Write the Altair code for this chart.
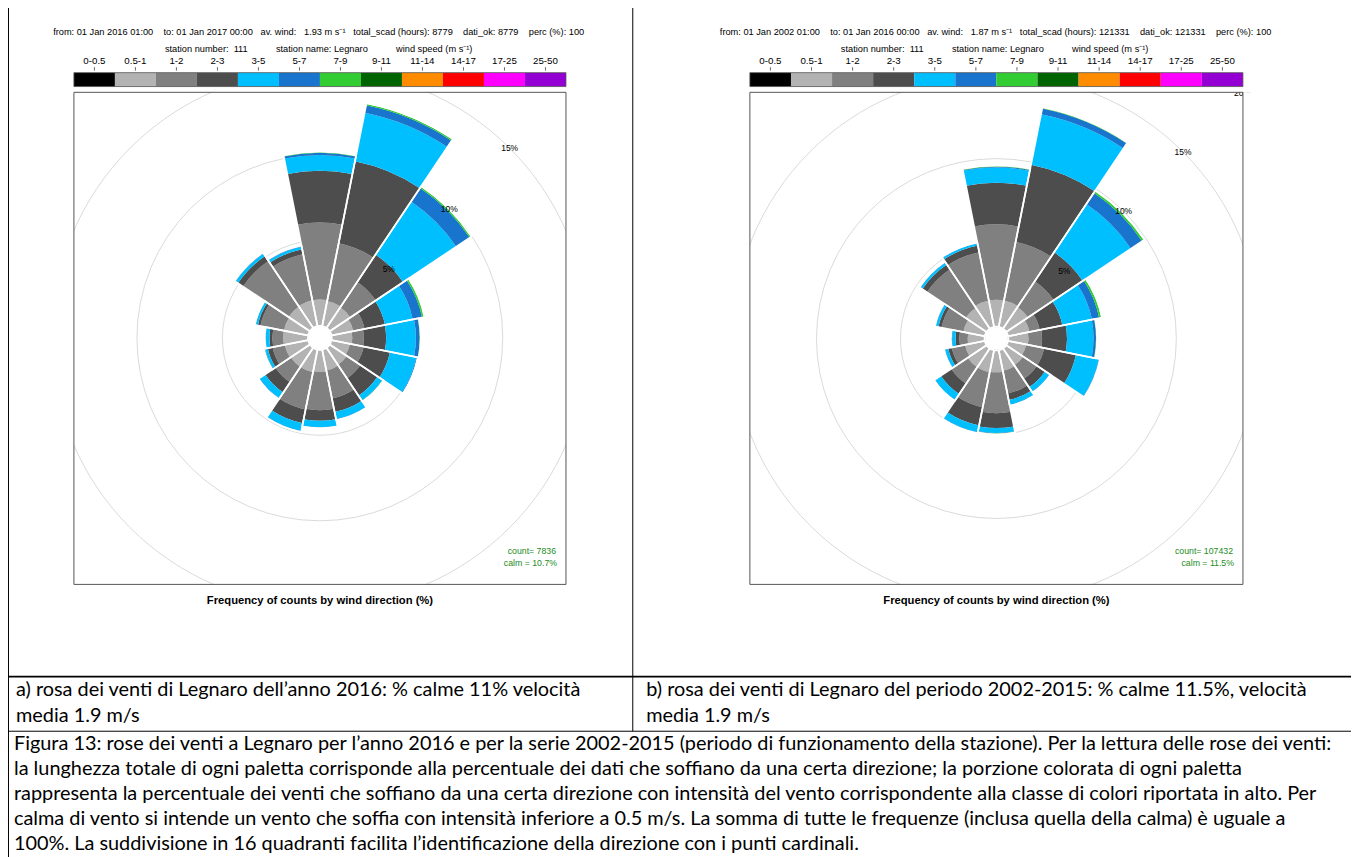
import math
import pandas as pd
import altair as alt

# ---------------- data ----------------
classes = ["0-0.5", "0.5-1", "1-2", "2-3", "3-5", "5-7", "7-9", "9-11", "11-14", "14-17", "17-25", "25-50"]
colors = ["#000000", "#b3b3b3", "#808080", "#4d4d4d", "#00bfff", "#1874cd", "#32cd32", "#006400",
          "#ff8c00", "#ff0000", "#ff00ff", "#9400d3"]
directions = ["N", "NNE", "NE", "ENE", "E", "ESE", "SE", "SSE", "S", "SSW", "SW", "WSW", "W", "WNW", "NW", "NNW"]
dir_deg = [0, 22.5, 45, 67.5, 90, 112.5, 135, 157.5, 180, 202.5, 225, 247.5, 270, 292.5, 315, 337.5]
shown_classes = ["0.5-1", "1-2", "2-3", "3-5", "5-7", "7-9"]

# a) Legnaro 2016  (% of counts per direction and speed class)
a_05_1 = [1.55, 1.50, 1.45, 1.30, 1.20, 1.10, 1.20, 1.25, 1.30, 1.35, 1.35, 1.40, 1.45, 1.45, 1.50, 1.55]
a_1_2 = [4.50, 3.44, 1.79, 0.67, 0.68, 0.82, 0.95, 1.67, 2.23, 2.22, 1.08, 0.72, 0.63, 1.40, 3.21, 2.74]
a_2_3 = [3.02, 4.89, 1.92, 1.22, 1.30, 1.57, 1.22, 0.81, 0.62, 0.83, 0.72, 0.29, 0.17, 0.15, 0.35, 0.30]
a_3_5 = [0.93, 2.90, 3.74, 1.65, 1.74, 1.57, 0.33, 0.42, 0.38, 0.45, 0.40, 0.15, 0.21, 0.12, 0.17, 0.14]
a_5_7 = [0.12, 0.44, 0.95, 0.56, 0.22, 0.04, 0.02, 0.02, 0.02, 0.02, 0.02, 0.02, 0.02, 0.02, 0.02, 0.03]
a_7_9 = [0.03, 0.08, 0.08, 0.10, 0.02, 0.00, 0.02, 0.00, 0.00, 0.00, 0.00, 0.02, 0.00, 0.00, 0.00, 0.00]

# b) Legnaro 2002-2015
b_05_1 = [1.60, 1.60, 1.55, 1.30, 1.20, 1.10, 1.20, 1.25, 1.30, 1.35, 1.35, 1.20, 1.00, 1.30, 1.50, 1.60]
b_1_2 = [4.49, 3.55, 1.85, 0.62, 0.81, 1.09, 0.99, 1.38, 2.43, 2.11, 1.18, 0.80, 0.50, 1.32, 2.76, 2.93]
b_2_3 = [2.47, 4.69, 2.07, 1.38, 1.48, 1.93, 0.59, 0.39, 0.89, 1.10, 0.74, 0.22, 0.23, 0.19, 0.33, 0.41]
b_3_5 = [0.91, 3.06, 3.45, 1.79, 1.58, 1.38, 0.32, 0.28, 0.29, 0.41, 0.42, 0.19, 0.20, 0.15, 0.14, 0.12]
b_5_7 = [0.05, 0.35, 0.80, 0.44, 0.15, 0.03, 0.02, 0.02, 0.02, 0.02, 0.02, 0.02, 0.03, 0.02, 0.02, 0.02]
b_7_9 = [0.03, 0.03, 0.12, 0.12, 0.02, 0.00, 0.00, 0.00, 0.02, 0.00, 0.00, 0.00, 0.00, 0.00, 0.00, 0.00]

rings_a = [5, 10, 15]
rings_b = [5, 10, 15, 20]

SP3 = "\u00a0" * 3
SP4 = "\u00a0" * 4
SP11 = "\u00a0" * 11
header_a1 = ("from: 01 Jan 2016 01:00" + SP4 + "to: 01 Jan 2017 00:00" + SP3 + "av. wind:" + SP3 +
             "1.93 m s\u207b\u00b9" + SP3 + "total_scad (hours): 8779" + SP4 + "dati_ok: 8779" + SP4 + "perc (%): 100")
header_b1 = ("from: 01 Jan 2002 01:00" + SP4 + "to: 01 Jan 2016 00:00" + SP3 + "av. wind:" + SP3 +
             "1.87 m s\u207b\u00b9" + SP3 + "total_scad (hours): 121331" + SP4 + "dati_ok: 121331" + SP4 + "perc (%): 100")
header_2 = ("station number:\u00a0\u00a0111" + SP11 + "station name: Legnaro" + SP11 + "wind speed (m s\u207b\u00b9)")
plot_title = "Frequency of counts by wind direction (%)"
count_a = ["count= 7836", "calm = 10.7%"]
count_b = ["count= 107432", "calm = 11.5%"]
cap_a = ["a) rosa dei venti di Legnaro dell\u2019anno 2016: % calme 11% velocit\u00e0", "media 1.9 m/s"]
cap_b = ["b) rosa dei venti di Legnaro del periodo 2002-2015: % calme 11.5%, velocit\u00e0", "media 1.9 m/s"]
fig_caption = [
    "Figura 13: rose dei venti a Legnaro per l\u2019anno 2016 e per la serie 2002-2015 (periodo di funzionamento della stazione). Per la lettura delle rose dei venti:",
    "la lunghezza totale di ogni paletta corrisponde alla percentuale dei dati che soffiano da una certa direzione; la porzione colorata di ogni paletta",
    "rappresenta la percentuale dei venti che soffiano da una certa direzione con intensit\u00e0 del vento corrispondente alla classe di colori riportata in alto. Per",
    "calma di vento si intende un vento che soffia con intensit\u00e0 inferiore a 0.5 m/s. La somma di tutte le frequenze (inclusa quella della calma) \u00e8 uguale a",
    "100%. La suddivisione in 16 quadranti facilita l\u2019identificazione della direzione con i punti cardinali.",
]


def build(series):
    rows, tots = [], []
    for i, d in enumerate(directions):
        cum = 0.0
        for cls, arr in zip(shown_classes, series):
            v = arr[i]
            rows.append({"dir": d, "cls": cls, "t0": dir_deg[i] - 11.25, "t1": dir_deg[i] + 11.25,
                         "r0": cum, "r1": cum + v})
            cum += v
        tots.append({"dir": d, "t0": dir_deg[i] - 11.25, "t1": dir_deg[i] + 11.25, "tot": cum})
    return pd.DataFrame(rows), pd.DataFrame(tots)


wedges_a, tot_a = build([a_05_1, a_1_2, a_2_3, a_3_5, a_5_7, a_7_9])
wedges_b, tot_b = build([b_05_1, b_1_2, b_2_3, b_3_5, b_5_7, b_7_9])

# ---------------- layout (chart pixel coords) ----------------
FONT = "Liberation Sans"
CAPFONT = "Lato"
CAPSIZE = 20
W, H = 1351, 849
A = dict(cx=313.7, cy=329.3, rmax=356, box=(66.3, 561.3, 82.3, 577.3), hx=312.5, h2x=312.5)
B = dict(cx=994.3, cy=330.0, rmax=350, box=(746.3, 1242.3, 82.3, 577.3), hx=993.5, h2x=992.5)
one = pd.DataFrame({"k": [1]})

tscale = alt.Scale(type="linear", domain=[0, 360], range=[0, 2 * math.pi], zero=False, nice=False)
cscale = alt.Scale(domain=classes, range=colors)


def rscale(p):
    return alt.Scale(type="linear", domain=[0, 20], range=[12, p["rmax"]], zero=False, nice=False)


def txt(s, x, y, size, font=FONT, color="black", align="center", weight="normal"):
    return alt.Chart(one).mark_text(text=s, fontSize=size, font=font, color=color, align=align,
                                    fontWeight=weight, baseline="middle").encode(
        x=alt.value(x), y=alt.value(y))


def rect(x0, x1, y0, y1, **kw):
    return alt.Chart(one).mark_rect(**kw).encode(
        x=alt.value(x0), x2=alt.value(x1), y=alt.value(y0), y2=alt.value(y1))


def hline(x0, x1, y, w=1, color="#000000"):
    return alt.Chart(one).mark_rule(color=color, strokeWidth=w).encode(
        x=alt.value(x0), x2=alt.value(x1), y=alt.value(y))


def vline(x, y0, y1, w=1, color="#000000"):
    return alt.Chart(one).mark_rule(color=color, strokeWidth=w).encode(
        x=alt.value(x), y=alt.value(y0), y2=alt.value(y1))


def rings_layer(p, rings):
    df = pd.DataFrame({"ring": rings, "t0": 0, "t1": 360})
    return alt.Chart(df).mark_arc(filled=False, stroke="#dadada", strokeWidth=1).encode(
        theta=alt.Theta("t0:Q", scale=tscale), theta2="t1:Q",
        radius=alt.Radius("ring:Q", scale=rscale(p)),
        x=alt.value(p["cx"]), y=alt.value(p["cy"]))


def ring_labels(p, rings):
    df = pd.DataFrame({"ring": rings, "ang": 45, "lab": [f"{r}%" for r in rings]})
    return alt.Chart(df).mark_text(fontSize=8.5, font=FONT, color="black").encode(
        theta=alt.Theta("ang:Q", scale=tscale),
        radius=alt.Radius("ring:Q", scale=rscale(p)),
        text="lab:N", x=alt.value(p["cx"]), y=alt.value(p["cy"]))


def wedge_layer(p, df):
    return alt.Chart(df).mark_arc().encode(
        theta=alt.Theta("t0:Q", scale=tscale), theta2="t1:Q",
        radius=alt.Radius("r1:Q", scale=rscale(p)), radius2="r0:Q",
        color=alt.Color("cls:N", scale=cscale, legend=None),
        x=alt.value(p["cx"]), y=alt.value(p["cy"]))


def outline_layer(p, df):
    return alt.Chart(df).transform_calculate(rout="datum.tot + 0.05").mark_arc(
        filled=False, stroke="white", strokeWidth=1.7).encode(
        theta=alt.Theta("t0:Q", scale=tscale), theta2="t1:Q",
        radius=alt.Radius("rout:Q", scale=rscale(p)),
        x=alt.value(p["cx"]), y=alt.value(p["cy"]))


def legend_layers(p):
    x0, x1 = p["box"][0], p["box"][1]
    sc = alt.Scale(type="band", domain=classes, range=[x0, x1], paddingInner=0, paddingOuter=0)
    ldf = pd.DataFrame({"cls": classes})
    bar = alt.Chart(ldf).mark_rect().encode(
        x=alt.X("cls:N", scale=sc, axis=None),
        color=alt.Color("cls:N", scale=cscale, legend=None),
        y=alt.value(62.5), y2=alt.value(76.5))
    labs = alt.Chart(ldf).mark_text(fontSize=9.8, font=FONT, color="black").encode(
        x=alt.X("cls:N", scale=sc, axis=None, bandPosition=0.5), text="cls:N", y=alt.value(51))
    ticks = alt.Chart(ldf).mark_rule(color="#444444", strokeWidth=0.8).encode(
        x=alt.X("cls:N", scale=sc, axis=None, bandPosition=0.5), y=alt.value(57), y2=alt.value(60.5))
    frame = rect(x0, x1, 62.5, 76.5, fillOpacity=0, stroke="#555555", strokeWidth=0.8)
    return [bar, frame, ticks, labs]


def masks(p, cell_x0, cell_x1):
    x0, x1, y0, y1 = p["box"]
    return [
        rect(cell_x0, cell_x1, -10, y0, color="white"),
        rect(cell_x0, cell_x1, y1, 728, color="white"),
        rect(cell_x0, x0, y0, y1, color="white"),
        rect(x1, cell_x1, y0, y1, color="white"),
    ]


def panel_texts(p, head1, counts):
    x0, x1, y0, y1 = p["box"]
    cx = (x0 + x1) / 2
    return [
        rect(x0, x1, y0, y1, fillOpacity=0, stroke="#555555", strokeWidth=1),
        txt(head1, p["hx"], 21.5, 9.3),
        txt(header_2, p["h2x"], 38.5, 9.3),
        txt(plot_title, cx, 594, 11.3, weight="bold"),
        txt(counts[0], x1 - 10, 543.5, 8.8, color="#228b22", align="right"),
        txt(counts[1], x1 - 9, 556, 8.8, color="#228b22", align="right"),
    ]


layers = []
layers += [rings_layer(A, rings_a), rings_layer(B, rings_b), ring_labels(B, [20])]
layers += masks(A, -10, 628) + masks(B, 629, W + 10)
layers += [wedge_layer(A, wedges_a), wedge_layer(B, wedges_b),
           outline_layer(A, tot_a), outline_layer(B, tot_b),
           ring_labels(A, rings_a), ring_labels(B, rings_b[:3])]
layers += panel_texts(A, header_a1, count_a) + panel_texts(B, header_b1, count_b)
layers += legend_layers(A) + legend_layers(B)

# table lines
layers += [vline(0.5, -10, H + 10), vline(628.5, -10, 725), hline(0, W + 10, 670, w=1.8), hline(0, W + 10, 725, w=1)]

# captions
layers += [txt(cap_a[0], 8, 684, CAPSIZE, font=CAPFONT, align="left"),
           txt(cap_a[1], 8, 710, CAPSIZE, font=CAPFONT, align="left"),
           txt(cap_b[0], 642, 684, CAPSIZE, font=CAPFONT, align="left"),
           txt(cap_b[1], 642, 710, CAPSIZE, font=CAPFONT, align="left")]
for i, line in enumerate(fig_caption):
    layers.append(txt(line, 6, 738 + 25 * i, CAPSIZE, font=CAPFONT, align="left"))

chart = alt.layer(*layers).resolve_scale(
    x="independent", radius="independent", theta="independent"
).properties(width=W, height=H, autosize="none", padding=0).configure_view(strokeWidth=0)

chart.save("out.html", embed_options={"renderer": "svg", "actions": False})
